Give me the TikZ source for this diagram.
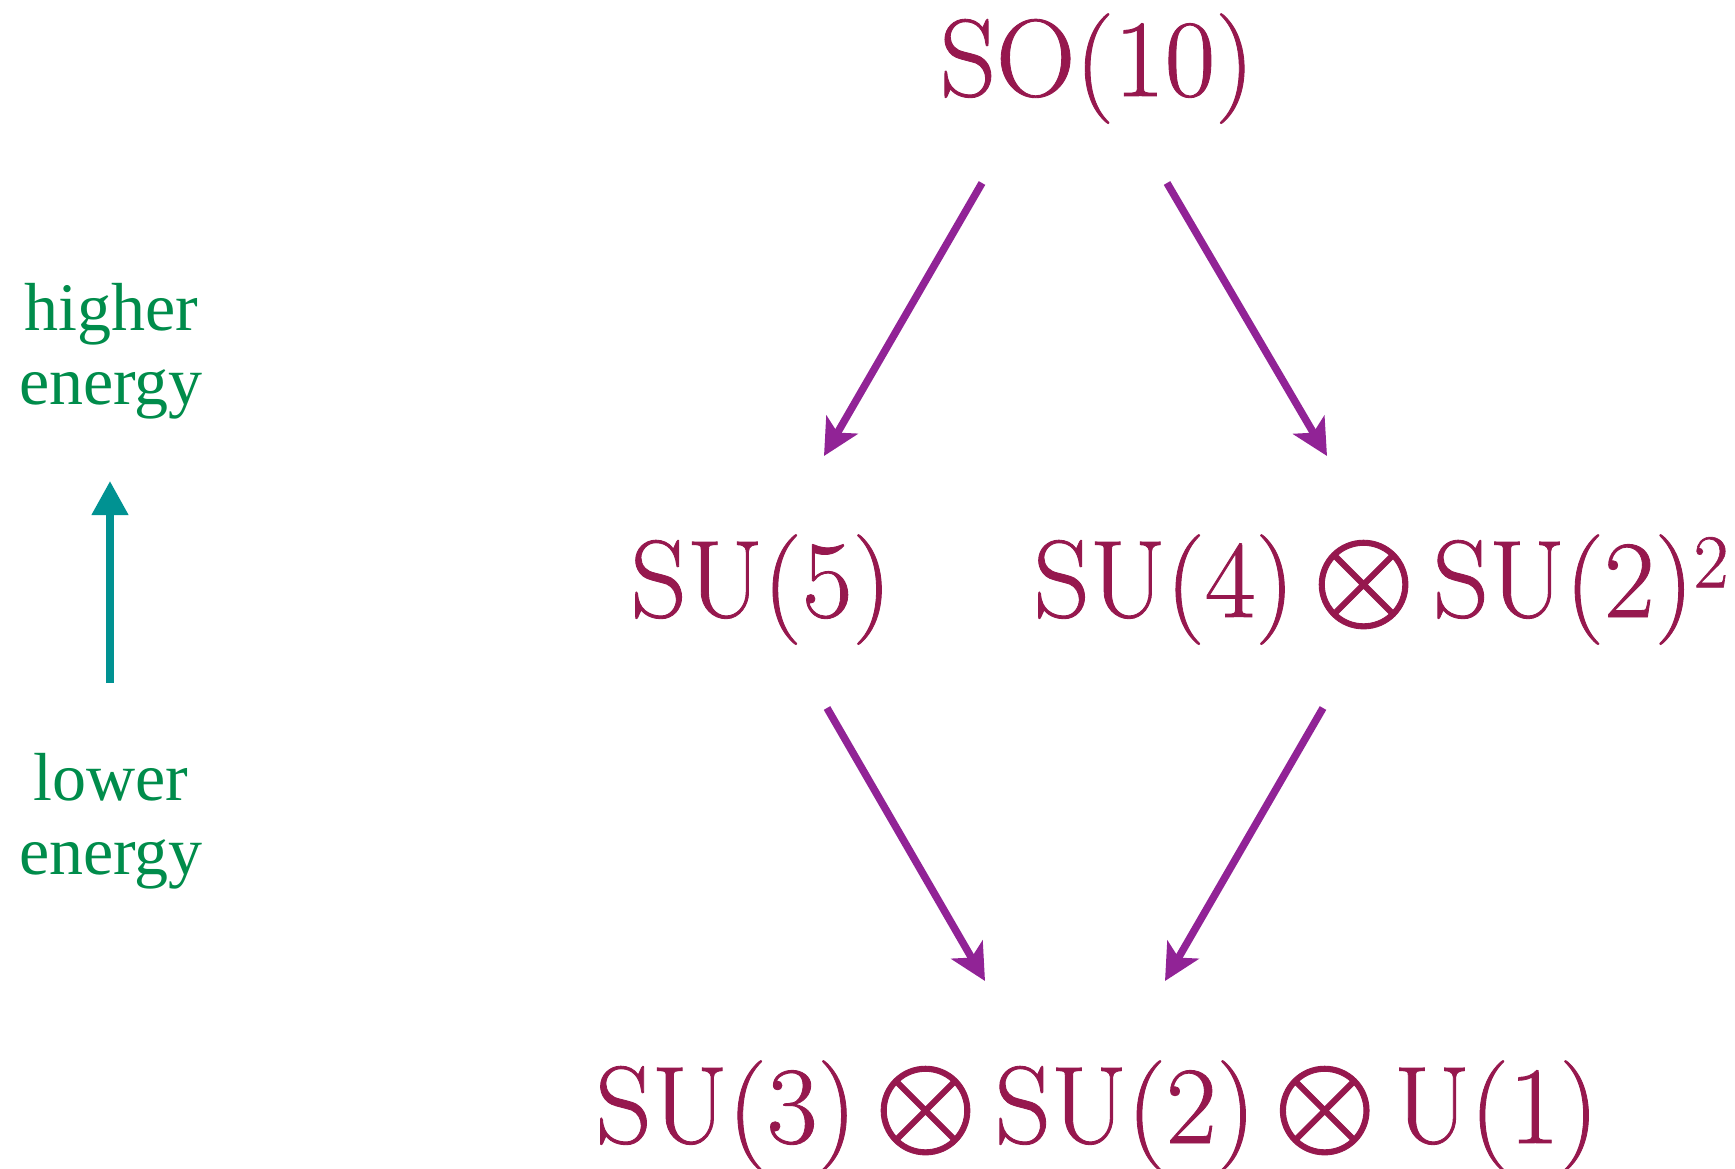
\documentclass[tikz,border=0pt]{standalone}
\usepackage{fontspec}
\newfontfamily\lblfont{Liberation Serif}
\newfontfamily\grpfont{lmroman17-regular.otf}[FakeBold=0.8]
\newfontfamily\symfont{latinmodern-math.otf}[FakeBold=0.7]
\usetikzlibrary{arrows.meta}
\definecolor{grp}{RGB}{150,24,78}
\definecolor{arr}{RGB}{145,35,150}
\definecolor{grn}{RGB}{0,140,75}
\definecolor{tel}{RGB}{0,146,146}
\newcommand{\tens}{\hspace{0.17em}\scalebox{1.18}{\symfont ⊗}\hspace{0.17em}}
\newcommand{\sqr}{\raisebox{0.27em}{\fontsize{76}{80}\selectfont 2}}
\tikzset{
  grpname/.style={text=grp, inner sep=0pt, anchor=base, font=\grpfont\fontsize{110}{115}\selectfont},
  energy/.style={text=grn, inner sep=0pt, align=center, anchor=base, font=\lblfont\fontsize{68}{74}\selectfont},
  breakarrow/.style={draw=arr, line width=7.5pt, -{Stealth[length=36pt,width=36pt,inset=9pt]}},
  scalearrow/.style={draw=tel, line width=7.5pt, -{Triangle[length=34pt,width=35pt]}}
}
\begin{document}
\begin{tikzpicture}[x=1pt,y=-1pt]
\useasboundingbox (0,0) rectangle (1735,1168);
\node[grpname] (so) at (1097,96) {SO(10)};
\node[grpname] (su5) at (761,617) {SU(5)};
\node[grpname] (ps) at (1381,617) {SU(4)\tens SU(2)\sqr};
\node[grpname] (sm) at (1097,1143) {SU(3)\tens SU(2)\tens U(1)};
\node[energy] (hi) at (111,404) {higher\\energy};
\node[energy] (lo) at (111,874) {lower\\energy};
\coordinate (a1s) at (982,183); \coordinate (a1e) at (824,456);
\coordinate (a2s) at (1167,183); \coordinate (a2e) at (1327,456);
\coordinate (a3s) at (827,708); \coordinate (a3e) at (985,981);
\coordinate (a4s) at (1323,708); \coordinate (a4e) at (1165,981);
\coordinate (es) at (110,683); \coordinate (ee) at (110,481);
\draw[breakarrow] (a1s) -- (a1e);
\draw[breakarrow] (a2s) -- (a2e);
\draw[breakarrow] (a3s) -- (a3e);
\draw[breakarrow] (a4s) -- (a4e);
\draw[scalearrow] (es) -- (ee);
\end{tikzpicture}
\end{document}
